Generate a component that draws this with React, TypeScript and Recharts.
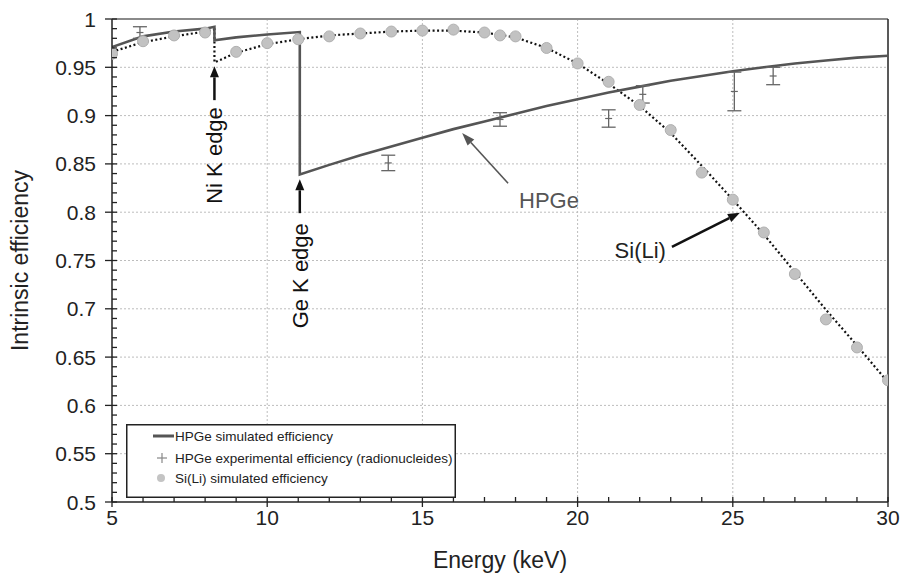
import React from 'react';
import {
  ComposedChart,
  Line,
  Scatter,
  XAxis,
  YAxis,
  ReferenceLine,
  ErrorBar,
  Legend,
  CartesianGrid,
} from 'recharts';

// ---------- data ----------
// HPGe simulated efficiency (solid line), with Ni K edge (8.3 keV) and Ge K edge (11.05 keV)
const hpgeSimEnergy = [5, 6, 7, 8, 8.3, 8.3, 9, 10, 11.05, 11.05, 12, 13, 14, 15, 16, 17, 18, 19, 20, 21, 22, 23, 24, 25, 26, 27, 28, 29, 30];
const hpgeSimEff = [0.971, 0.982, 0.987, 0.990, 0.992, 0.978, 0.981, 0.984, 0.9865, 0.839, 0.849, 0.859, 0.868, 0.877, 0.886, 0.894, 0.902, 0.910, 0.917, 0.924, 0.930, 0.936, 0.941, 0.946, 0.950, 0.954, 0.957, 0.960, 0.962];

// HPGe experimental efficiency (radionucleides) with uncertainties
const hpgeExpEnergy = [5.9, 13.9, 17.5, 21.0, 22.1, 25.05, 26.3];
const hpgeExpEff = [0.986, 0.851, 0.896, 0.897, 0.922, 0.925, 0.941];
const hpgeExpErr = [0.006, 0.008, 0.007, 0.009, 0.009, 0.02, 0.009];

// Si(Li) simulated efficiency: points
const siliEnergy = [5, 6, 7, 8, 9, 10, 11, 12, 13, 14, 15, 16, 17, 17.5, 18, 19, 20, 21, 22, 23, 24, 25, 26, 27, 28, 29, 30];
const siliEff = [0.964, 0.977, 0.983, 0.986, 0.966, 0.975, 0.979, 0.982, 0.985, 0.987, 0.988, 0.989, 0.986, 0.983, 0.982, 0.970, 0.954, 0.935, 0.911, 0.885, 0.841, 0.813, 0.779, 0.736, 0.689, 0.660, 0.626];

// Si(Li) dotted trend curve
const siliCurveEnergy = [5, 6, 7, 8, 8.3, 8.3, 9, 10, 11, 12, 13, 14, 15, 16, 17, 18, 19, 20, 21, 22, 23, 24, 25, 26, 27, 28, 29, 30];
const siliCurveEff = [0.966, 0.976, 0.982, 0.987, 0.989, 0.955, 0.965, 0.974, 0.979, 0.983, 0.985, 0.987, 0.988, 0.988, 0.986, 0.981, 0.970, 0.954, 0.933, 0.910, 0.882, 0.848, 0.813, 0.777, 0.738, 0.699, 0.662, 0.624];

// axis ticks
const xTicks = [5, 6, 7, 8, 9, 10, 11, 12, 13, 14, 15, 16, 17, 18, 19, 20, 21, 22, 23, 24, 25, 26, 27, 28, 29, 30];
const xMajor = [5, 10, 15, 20, 25, 30];
const yTicks = Array.from({ length: 51 }, (_, i) => +(0.5 + i * 0.01).toFixed(2));
const yMajorLabels = ['0.5', '0.55', '0.6', '0.65', '0.7', '0.75', '0.8', '0.85', '0.9', '0.95', '1'];
const xGrid = [10, 15, 20, 25];
const yGrid = [0.55, 0.6, 0.65, 0.7, 0.75, 0.8, 0.85, 0.9, 0.95];

const hpgeSim = hpgeSimEnergy.map((e, i) => ({ energy: e, eff: hpgeSimEff[i] }));
const hpgeExp = hpgeExpEnergy.map((e, i) => ({ energy: e, eff: hpgeExpEff[i], err: hpgeExpErr[i] }));
const sili = siliEnergy.map((e, i) => ({ energy: e, eff: siliEff[i] }));
const siliCurve = siliCurveEnergy.map((e, i) => ({ energy: e, eff: siliCurveEff[i] }));

const FONT = "'Liberation Sans', Arial, Helvetica, sans-serif";

// ---------- axis ticks ----------
const XTick = (props: any) => {
  const { x, y, payload } = props;
  const v = payload.value;
  const major = xMajor.includes(v);
  return (
    <g>
      <line x1={x} x2={x} y1={y - 5} y2={major ? y + 5 : y} stroke="#222" strokeWidth={1.3} />
      {major && (
        <text x={x} y={y + 23} textAnchor="middle" fontSize={21} fill="#222" fontFamily={FONT}>
          {v}
        </text>
      )}
    </g>
  );
};

const YTick = (props: any) => {
  const { x, y, payload } = props;
  const v = payload.value;
  const label = String(v);
  const major = yMajorLabels.includes(label);
  return (
    <g>
      <line x1={major ? x - 7 : x} x2={x + 5} y1={y} y2={y} stroke="#222" strokeWidth={1.3} />
      {major && (
        <text x={x - 16} y={y} dy={7.5} textAnchor="end" fontSize={21} fill="#222" fontFamily={FONT}>
          {label}
        </text>
      )}
    </g>
  );
};

// ---------- annotation arrows ----------
type ArrowOpts = {
  color: string;
  width: number;
  head: number;
  headW: number;
  text: string;
  textColor: string;
  dx: number;
  dy: number;
  anchor: 'start' | 'end' | 'middle';
  vertical?: boolean;
};

const arrowShape = (o: ArrowOpts) => (props: any) => {
  const { x1, y1, x2, y2 } = props;
  const ang = Math.atan2(y2 - y1, x2 - x1);
  const bx = x2 - o.head * Math.cos(ang);
  const by = y2 - o.head * Math.sin(ang);
  const px = (-Math.sin(ang) * o.headW) / 2;
  const py = (Math.cos(ang) * o.headW) / 2;
  const tx = x1 + o.dx;
  const ty = y1 + o.dy;
  return (
    <g>
      <line x1={x1} y1={y1} x2={bx} y2={by} stroke={o.color} strokeWidth={o.width} />
      <polygon points={`${x2},${y2} ${bx + px},${by + py} ${bx - px},${by - py}`} fill={o.color} />
      {o.vertical ? (
        <text
          x={tx}
          y={ty}
          transform={`rotate(-90, ${tx}, ${ty})`}
          textAnchor={o.anchor}
          dy={8}
          fontSize={22}
          fill={o.textColor}
          fontFamily={FONT}
        >
          {o.text}
        </text>
      ) : (
        <text x={tx} y={ty} textAnchor={o.anchor} fontSize={22} fill={o.textColor} fontFamily={FONT}>
          {o.text}
        </text>
      )}
    </g>
  );
};

// ---------- legend ----------
const LegendBox = () => (
  <svg width={330} height={74} style={{ display: 'block' }}>
    <rect x={0.75} y={0.75} width={328.5} height={72.5} fill="#fff" stroke="#222" strokeWidth={1.5} />
    <line x1={27} x2={48} y1={12} y2={12} stroke="#555" strokeWidth={3} />
    <text x={49} y={16.5} fontSize={13.5} fill="#222" fontFamily={FONT}>HPGe simulated efficiency</text>
    <line x1={31} x2={41} y1={34} y2={34} stroke="#888" strokeWidth={1.2} />
    <line x1={36} x2={36} y1={29} y2={39} stroke="#888" strokeWidth={1.2} />
    <text x={49} y={38.5} fontSize={13.5} fill="#222" fontFamily={FONT}>HPGe experimental efficiency (radionucleides)</text>
    <circle cx={35} cy={54} r={4} fill="#c4c4c4" />
    <text x={49} y={58.5} fontSize={13.5} fill="#222" fontFamily={FONT}>Si(Li) simulated efficiency</text>
  </svg>
);

const PlusShape = (props: any) => {
  const { cx, cy } = props;
  return (
    <g>
      <line x1={cx - 3.5} x2={cx + 3.5} y1={cy} y2={cy} stroke="#666" strokeWidth={1.2} />
    </g>
  );
};

const CircleShape = (props: any) => {
  const { cx, cy } = props;
  return <circle cx={cx} cy={cy} r={5.5} fill="#c2c2c2" stroke="#b0b0b0" strokeWidth={1} />;
};

export default function App() {
  return (
    <div style={{ position: 'absolute', left: 0, top: 0, width: 904, height: 573, background: '#fff' }}>
      <ComposedChart width={904} height={573} margin={{ top: 19, right: 16, bottom: 0, left: 0 }}>
        <CartesianGrid
          verticalValues={xGrid}
          horizontalValues={yGrid}
          stroke="#bdbdbd"
          strokeDasharray="2 2"
          strokeWidth={1}
        />
        <XAxis
          dataKey="energy"
          type="number"
          domain={[5, 30]}
          ticks={xTicks}
          interval={0}
          allowDataOverflow
          height={71}
          tickSize={0}
          tickMargin={0}
          tick={<XTick />}
          axisLine={{ stroke: '#222', strokeWidth: 1.5 }}
          tickLine={false}
          label={{ value: 'Energy (keV)', position: 'insideBottom', offset: 5, fontSize: 23, fill: '#222', fontFamily: FONT }}
        />
        <YAxis
          dataKey="eff"
          type="number"
          domain={[0.5, 1]}
          ticks={yTicks}
          interval={0}
          allowDataOverflow
          width={112}
          tickSize={0}
          tickMargin={0}
          tick={<YTick />}
          axisLine={{ stroke: '#222', strokeWidth: 1.5 }}
          tickLine={false}
          label={{
            value: 'Intrinsic efficiency',
            angle: -90,
            position: 'insideLeft',
            offset: 20,
            style: { textAnchor: 'middle' },
            fontSize: 23,
            fill: '#222',
            fontFamily: FONT,
          }}
        />
        <ReferenceLine y={1} stroke="#8a8a8a" strokeWidth={2} />
        <ReferenceLine x={30} stroke="#222" strokeWidth={1.5} />

        <Scatter name="Si(Li) simulated efficiency" data={sili} shape={<CircleShape />} isAnimationActive={false} />
        <Line
          name="Si(Li) trend"
          data={siliCurve}
          dataKey="eff"
          type="linear"
          stroke="#111"
          strokeWidth={2.2}
          strokeDasharray="2 2.5"
          dot={false}
          activeDot={false}
          isAnimationActive={false}
        />
        <Line
          name="HPGe simulated efficiency"
          data={hpgeSim}
          dataKey="eff"
          type="linear"
          stroke="#555"
          strokeWidth={2.6}
          dot={false}
          activeDot={false}
          isAnimationActive={false}
        />
        <Scatter name="HPGe experimental efficiency (radionucleides)" data={hpgeExp} shape={<PlusShape />} isAnimationActive={false}>
          <ErrorBar dataKey="err" direction="y" width={7} stroke="#666" strokeWidth={1.3} isAnimationActive={false} />
        </Scatter>

        <ReferenceLine
          segment={[{ x: 8.3, y: 0.916 }, { x: 8.3, y: 0.951 }]}
          shape={arrowShape({ color: '#111', width: 2.5, head: 11, headW: 9, text: 'Ni K edge', textColor: '#111', dx: 0, dy: 7, anchor: 'end', vertical: true })}
        />
        <ReferenceLine
          segment={[{ x: 11.05, y: 0.799 }, { x: 11.05, y: 0.834 }]}
          shape={arrowShape({ color: '#111', width: 2.5, head: 11, headW: 9, text: 'Ge K edge', textColor: '#111', dx: 0, dy: 10, anchor: 'end', vertical: true })}
        />
        <ReferenceLine
          segment={[{ x: 17.76, y: 0.83 }, { x: 16.28, y: 0.882 }]}
          shape={arrowShape({ color: '#555', width: 1.6, head: 13, headW: 9, text: 'HPGe', textColor: '#555', dx: 11, dy: 25, anchor: 'start' })}
        />
        <ReferenceLine
          segment={[{ x: 23.04, y: 0.764 }, { x: 25.23, y: 0.7995 }]}
          shape={arrowShape({ color: '#111', width: 2.5, head: 12, headW: 9, text: 'Si(Li)', textColor: '#222', dx: -6, dy: 11, anchor: 'end' })}
        />

        <Legend
          layout="vertical"
          align="center"
          verticalAlign="middle"
          wrapperStyle={{ left: 126, top: 424, width: 330, height: 74 }}
          content={() => <LegendBox />}
        />
      </ComposedChart>
    </div>
  );
}
